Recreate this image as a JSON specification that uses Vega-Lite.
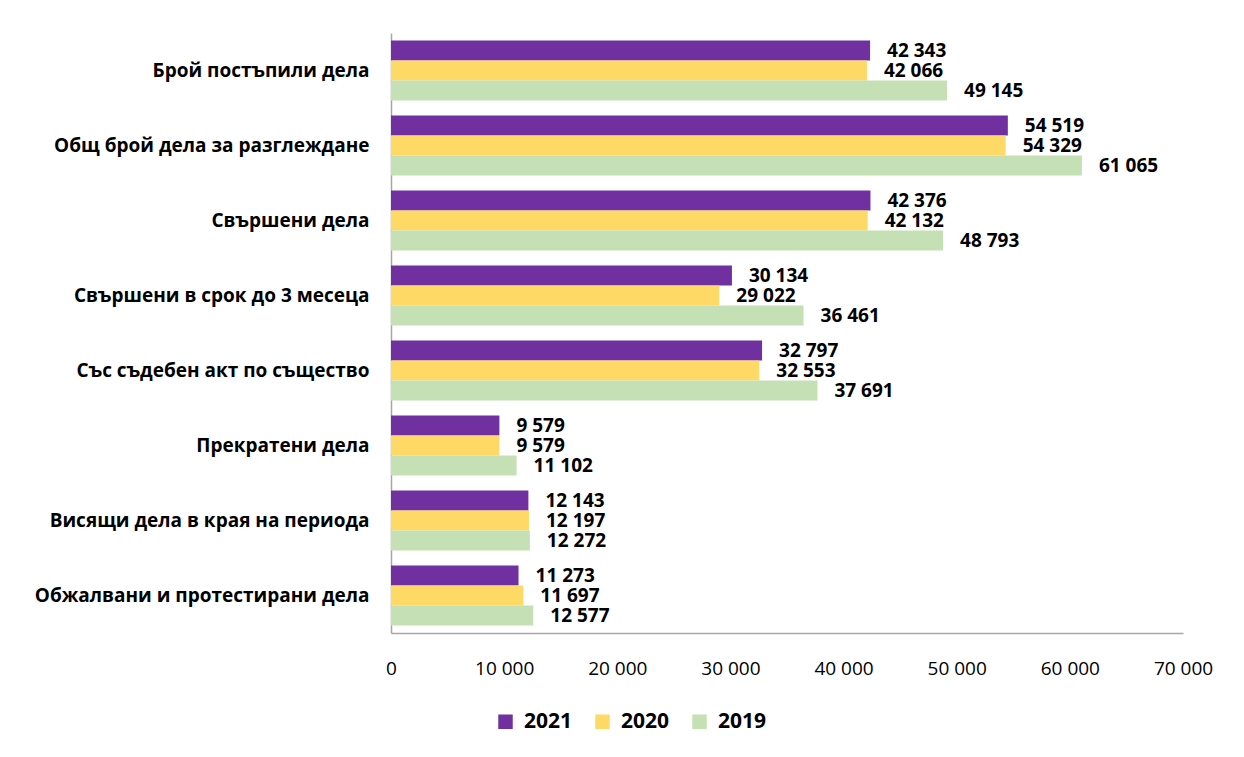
{
  "$schema": "https://vega.github.io/schema/vega-lite/v6.json",
  "width": 792,
  "height": 600,
  "padding": {"left": 8, "top": 33, "right": 10, "bottom": 10},
  "background": "white",
  "config": {
    "view": {"stroke": null},
    "font": "Open Sans",
    "locale": {"number": {"decimal": ",", "thousands": " ", "grouping": [3], "currency": ["", ""]}}
  },
  "data": {
    "values": [
      {"cat": "Брой постъпили дела", "year": "2021", "value": 42343},
      {"cat": "Брой постъпили дела", "year": "2020", "value": 42066},
      {"cat": "Брой постъпили дела", "year": "2019", "value": 49145},
      {"cat": "Общ брой дела за разглеждане", "year": "2021", "value": 54519},
      {"cat": "Общ брой дела за разглеждане", "year": "2020", "value": 54329},
      {"cat": "Общ брой дела за разглеждане", "year": "2019", "value": 61065},
      {"cat": "Свършени дела", "year": "2021", "value": 42376},
      {"cat": "Свършени дела", "year": "2020", "value": 42132},
      {"cat": "Свършени дела", "year": "2019", "value": 48793},
      {"cat": "Свършени в срок до 3 месеца", "year": "2021", "value": 30134},
      {"cat": "Свършени в срок до 3 месеца", "year": "2020", "value": 29022},
      {"cat": "Свършени в срок до 3 месеца", "year": "2019", "value": 36461},
      {"cat": "Със съдебен акт по същество", "year": "2021", "value": 32797},
      {"cat": "Със съдебен акт по същество", "year": "2020", "value": 32553},
      {"cat": "Със съдебен акт по същество", "year": "2019", "value": 37691},
      {"cat": "Прекратени дела", "year": "2021", "value": 9579},
      {"cat": "Прекратени дела", "year": "2020", "value": 9579},
      {"cat": "Прекратени дела", "year": "2019", "value": 11102},
      {"cat": "Висящи дела в края на периода", "year": "2021", "value": 12143},
      {"cat": "Висящи дела в края на периода", "year": "2020", "value": 12197},
      {"cat": "Висящи дела в края на периода", "year": "2019", "value": 12272},
      {"cat": "Обжалвани и протестирани дела", "year": "2021", "value": 11273},
      {"cat": "Обжалвани и протестирани дела", "year": "2020", "value": 11697},
      {"cat": "Обжалвани и протестирани дела", "year": "2019", "value": 12577}
    ]
  },
  "encoding": {
    "y": {
      "field": "cat",
      "type": "nominal",
      "sort": null,
      "title": null,
      "scale": {"paddingInner": 0.2, "paddingOuter": 0.1},
      "axis": {
        "ticks": false,
        "domainColor": "#A6A6A6",
        "domainWidth": 1.5,
        "labelFont": "Open Sans",
        "labelFontWeight": "bold",
        "labelFontSize": 19,
        "labelColor": "#000000",
        "labelPadding": 22,
        "labelLimit": 400,
        "minExtent": 383,
        "maxExtent": 383
      }
    },
    "yOffset": {
      "field": "year",
      "type": "nominal",
      "sort": ["2021", "2020", "2019"],
      "scale": {"paddingInner": 0, "paddingOuter": 0}
    },
    "x": {
      "field": "value",
      "type": "quantitative",
      "title": null,
      "scale": {"domain": [0, 70000], "nice": false},
      "axis": {
        "values": [0, 10000, 20000, 30000, 40000, 50000, 60000, 70000],
        "format": ",d",
        "grid": false,
        "ticks": false,
        "domainColor": "#A6A6A6",
        "domainWidth": 1.5,
        "labelFont": "Open Sans",
        "labelFontSize": 19,
        "labelColor": "#000000",
        "labelPadding": 26,
        "labelFlush": false,
        "labelOverlap": false
      }
    }
  },
  "layer": [
    {
      "mark": {"type": "bar"},
      "encoding": {
        "color": {
          "field": "year",
          "type": "nominal",
          "sort": ["2021", "2020", "2019"],
          "scale": {"domain": ["2021", "2020", "2019"], "range": ["#7030A0", "#FFD966", "#C5E0B4"]},
          "legend": {
            "title": null,
            "orient": "none",
            "direction": "horizontal",
            "legendX": 104,
            "legendY": 678,
            "symbolType": "square",
            "symbolSize": 210,
            "symbolStrokeWidth": 0,
            "labelFont": "Open Sans",
            "labelFontWeight": "bold",
            "labelFontSize": 21,
            "labelColor": "#000000",
            "labelOffset": 8,
            "columnPadding": 19
          }
        }
      }
    },
    {
      "mark": {"type": "text", "align": "left", "baseline": "middle", "dx": 17, "fontWeight": "bold", "fontSize": 19, "font": "Open Sans", "color": "#000000"},
      "encoding": {
        "text": {"field": "value", "type": "quantitative", "format": ",d"}
      }
    }
  ]
}
